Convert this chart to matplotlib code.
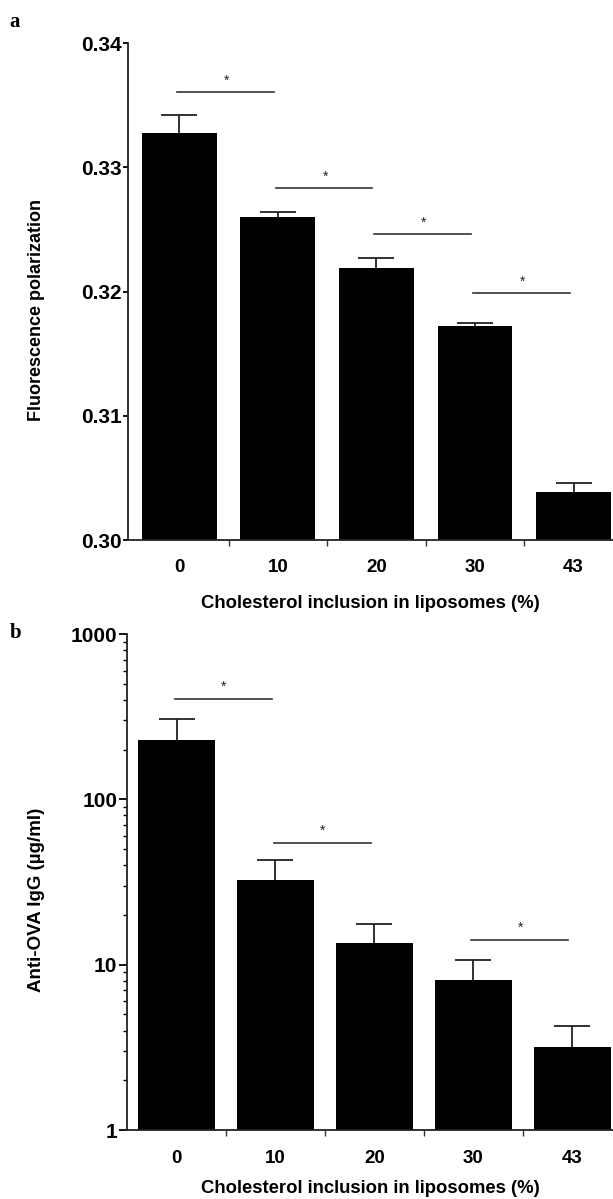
import matplotlib
matplotlib.use("Agg")
import matplotlib.pyplot as plt
from matplotlib.ticker import LogLocator, NullFormatter, FixedLocator

plt.rcParams['font.family'] = ['Liberation Sans', 'DejaVu Sans']

# data
groups = ['0', '10', '20', '30', '43']
fp_mean = [0.3328, 0.3260, 0.3219, 0.3172, 0.3039]
fp_err = [0.0014, 0.0004, 0.0008, 0.0003, 0.0007]
igg_mean = [228, 32.5, 13.5, 8.1, 3.2]
igg_err = [78, 10.5, 4.1, 2.6, 1.05]

# significance brackets: (left group, right group, height)
fp_sig = [(0, 1, 0.3361), (1, 2, 0.3283), (2, 3, 0.3246), (3, 4, 0.3199)]
igg_sig = [(0, 1, 405), (1, 2, 54.5), (3, 4, 14.1)]

xlabel = 'Cholesterol inclusion in liposomes (%)'

fig = plt.figure(figsize=(6.13, 11.99), dpi=100)
ax1 = fig.add_axes([0.2088, 0.5496, 0.7912, 0.4145])
ax2 = fig.add_axes([0.2072, 0.0575, 0.7928, 0.4137])

x = list(range(len(groups)))


def style_axes(ax, ytick_len):
    for s in ['top', 'right']:
        ax.spines[s].set_visible(False)
    for s in ['left', 'bottom']:
        ax.spines[s].set_linewidth(1.3)
        ax.spines[s].set_color('#222222')
    ax.xaxis.set_major_locator(FixedLocator([i + 0.5 for i in x[:-1]]))
    ax.xaxis.set_major_formatter(NullFormatter())
    ax.set_xticks(x, groups, minor=True)
    ax.tick_params(axis='x', which='major', direction='out', length=4, width=1.0, color='#333333')
    ax.tick_params(axis='x', which='minor', length=0, pad=14, labelsize=13.5)
    ax.tick_params(axis='y', which='major', direction='out', length=ytick_len, width=1.3,
                   labelsize=15, pad=1)
    for lab in ax.get_xticklabels(minor=True) + ax.get_yticklabels():
        lab.set_fontweight('bold')


def draw_sig(ax, sig, off):
    for i, j, h in sig:
        ax.plot([i - 0.02, j - 0.04], [h, h], color='#333333', lw=1.2)
        ax.annotate('*', xy=((i + j) / 2 - 0.02, h), xytext=(0, off), textcoords='offset points',
                    ha='center', va='bottom', fontsize=10, color='#222222')


# panel a
ax1.errorbar(x, fp_mean, yerr=fp_err, fmt='none', ecolor='#222222',
             elinewidth=1.3, capsize=13, capthick=1.3, zorder=1)
ax1.bar(x, fp_mean, width=0.76, color='black', zorder=2)
ax1.set_xlim(-0.52, 4.4)
ax1.set_ylim(0.30, 0.34)
ax1.set_yticks([0.30, 0.31, 0.32, 0.33, 0.34])
ax1.set_yticklabels(['0.30', '0.31', '0.32', '0.33', '0.34'])
style_axes(ax1, 3.5)
ax1.set_xlabel(xlabel, fontsize=13.3, fontweight='bold', labelpad=13)
ax1.set_ylabel('Fluorescence polarization', fontsize=13, fontweight='bold')
ax1.yaxis.set_label_coords(-0.172, 0.463)
draw_sig(ax1, fp_sig, 3)

# panel b
ax2.errorbar(x, igg_mean, yerr=igg_err, fmt='none', ecolor='#222222',
             elinewidth=1.3, capsize=13, capthick=1.3, zorder=1)
ax2.bar(x, igg_mean, width=0.77, color='black', zorder=2)
ax2.set_yscale('log')
ax2.set_xlim(-0.5, 4.41)
ax2.set_ylim(1, 1000)
ax2.set_yticks([1, 10, 100, 1000])
ax2.set_yticklabels(['1', '10', '100', '1000'])
ax2.yaxis.set_minor_locator(LogLocator(base=10, subs=range(2, 10)))
ax2.yaxis.set_minor_formatter(NullFormatter())
style_axes(ax2, 6)
ax2.tick_params(axis='y', which='minor', direction='out', length=3, width=1.0)
ax2.set_xlabel(xlabel, fontsize=13.3, fontweight='bold', labelpad=10)
ax2.set_ylabel('Anti-OVA IgG (\u00b5g/ml)', fontsize=13.5, fontweight='bold')
ax2.yaxis.set_label_coords(-0.168, 0.464)
draw_sig(ax2, igg_sig, 4)

fig.text(0.016, 0.982, 'a', family='Liberation Serif', fontweight='bold', fontsize=15, va='center')
fig.text(0.016, 0.472, 'b', family='Liberation Serif', fontweight='bold', fontsize=15, va='center')

fig.savefig('out.png', dpi=100, facecolor='white')
